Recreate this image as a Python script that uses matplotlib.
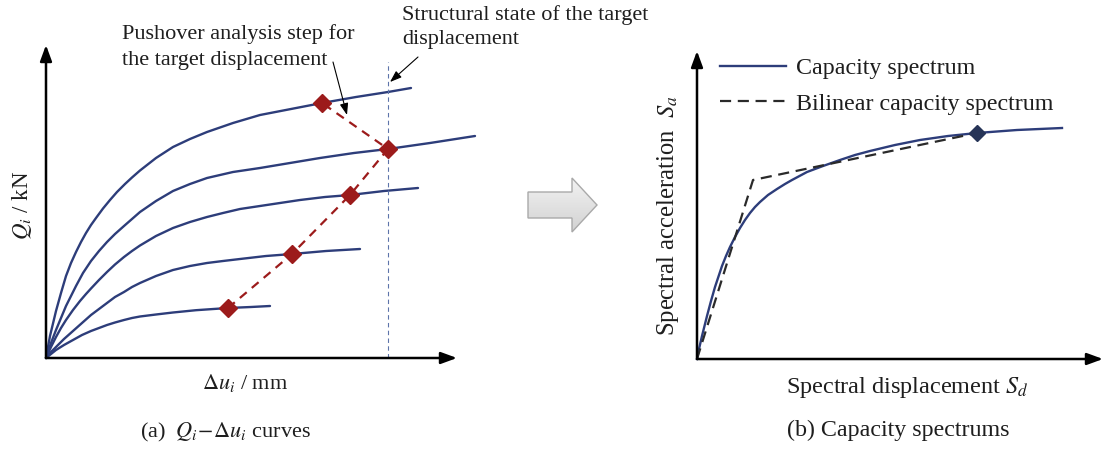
import numpy as np
import matplotlib.pyplot as plt
from matplotlib.patches import Polygon
from matplotlib.colors import LinearSegmentedColormap

plt.rcParams['font.family'] = 'Liberation Serif'
plt.rcParams['mathtext.fontset'] = 'stix'

W, H = 1105, 449

# pushover curves of the substructures (storey shear vs. interstorey drift)
du_1 = [0, 4, 10, 15, 20, 25, 30, 35, 40, 45, 50, 57, 64, 71, 79, 86, 94, 110,
        127, 144, 161, 187, 214, 245, 276, 310, 342, 365]
Q_1 = [0, 22, 47, 65, 82, 95, 106, 116, 125, 133, 140, 149.5, 158, 166, 174, 180.5,
       187.5, 200, 211, 219, 226, 235, 243, 249, 255, 261, 266, 270]
du_2 = [0, 5, 10, 15, 20, 25, 30, 37, 45, 53, 61, 69, 78, 86, 94, 110, 127, 144,
        161, 187, 214, 244, 274, 308, 342, 384, 429]
Q_2 = [0, 15, 28, 40, 52, 62, 72, 85, 97, 107, 116, 124, 132, 139, 146, 157, 167,
       174, 180, 186, 190, 195, 200, 205, 209, 215, 222]
du_3 = [0, 5, 10, 15, 20, 27, 34, 40, 45, 53, 61, 69, 78, 86, 94, 110, 127, 144,
        161, 177, 194, 214, 234, 254, 279, 304, 338, 372]
Q_3 = [0, 11, 21, 30, 38, 48, 57, 64, 69.5, 78, 86, 93.5, 101, 107, 112.5, 122, 130,
       136, 141, 145, 149, 152, 155, 158, 161, 163, 167, 170]
du_4 = [0, 5, 10, 18, 27, 36, 45, 53, 61, 69, 78, 86, 94, 110, 127, 144, 161, 177,
        194, 220, 246, 280, 314]
Q_4 = [0, 6, 11, 19, 27, 35, 43, 49, 55, 61, 66, 71, 75, 82, 88, 92, 95, 97, 99,
       102, 104, 107, 109]
du_5 = [0, 5, 10, 18, 27, 36, 45, 53, 61, 69, 78, 86, 94, 110, 127, 150, 182, 205, 224]
Q_5 = [0, 4, 8, 13, 18, 23, 27, 30, 33, 35.5, 38, 40, 41.5, 43.5, 45.5, 47.8, 50, 51, 52]

# analysis step of each curve at the target displacement
step_du = [182, 246, 304, 342, 276]
step_Q = [50, 104, 163, 209, 255]
target_du = 342

# capacity spectrum and its bilinear idealisation
Sd = [0, 2, 5, 10, 14, 18, 21, 25, 29, 33, 38, 43, 48, 53, 58, 63, 71, 80, 88, 95,
      110, 126, 143, 158, 173, 198, 223, 251, 280, 320, 365]
Sa = [0, 10, 23, 43, 58, 72, 81, 93, 103, 112, 122, 131, 139, 146, 152, 157, 164,
      170, 175, 179, 187, 193, 199, 204, 208, 214, 219, 223, 226, 229, 231]
Sd_bl = [0, 56, 280]
Sa_bl = [0, 179, 226]
Sd_perf, Sa_perf = 280, 226

navy = '#2d3d7a'
red = '#9c1b1b'
txt = '#1e1e1e'
fs_a = 16
fs_b = 17.3

fig = plt.figure(figsize=(W / 100, H / 100), dpi=100)

# ---- (a) pushover curves ----
ax1 = fig.add_axes([46 / W, (H - 358) / H, 454 / W, 358 / H])
ax1.set_xlim(0, 454)
ax1.set_ylim(0, 358)
ax1.axis('off')

for du, Q in [(du_1, Q_1), (du_2, Q_2), (du_3, Q_3), (du_4, Q_4), (du_5, Q_5)]:
    ax1.plot(du, Q, color=navy, lw=1.7, solid_capstyle='round',
             solid_joinstyle='round', clip_on=False)

ax1.plot([target_du, target_du], [0, 296], color='#5d74aa', lw=0.8,
         dashes=(4, 3), clip_on=False)
ax1.plot(step_du, step_Q, color=red, lw=1.6, dashes=(4, 3), zorder=3, clip_on=False)
ax1.plot(step_du, step_Q, ls='none', marker='D', ms=9, color=red, zorder=4, clip_on=False)

arr = dict(arrowstyle='-|>,head_length=0.6,head_width=0.22', color='k', lw=1.8,
           mutation_scale=16, shrinkA=0, shrinkB=0)
ax1.annotate('', xy=(0, 313), xytext=(0, 0), arrowprops=arr)
ax1.annotate('', xy=(411, 0), xytext=(0, 0), arrowprops=arr)

thin = dict(arrowstyle='-|>,head_length=0.5,head_width=0.18', color='k', lw=0.8,
            mutation_scale=14, shrinkA=0, shrinkB=0)
ax1.annotate('', xy=(301, 243), xytext=(287, 296), arrowprops=thin)
ax1.annotate('', xy=(344, 276), xytext=(372, 301), arrowprops=thin)

ax1.text(76, 311, 'Pushover analysis step for\nthe target displacement',
         fontsize=fs_a, color=txt, ha='left', va='center', linespacing=1.5)
ax1.text(356, 331, 'Structural state of the target\ndisplacement',
         fontsize=fs_a, color=txt, ha='left', va='center', linespacing=1.42)

ax1.text(-24, 153, r'$Q_i$ / kN', fontsize=16.5, color=txt, rotation=90,
         ha='center', va='center')
ax1.text(199, -25, r'$\Delta u_i$ / mm', fontsize=fs_a, color=txt,
         ha='center', va='center')
ax1.text(179, -74, r'(a)  $Q_i\!-\!\Delta u_i$ curves', fontsize=fs_a, color=txt,
         ha='center', va='center')

# ---- (b) capacity spectrum ----
ax2 = fig.add_axes([697 / W, (H - 359) / H, 408 / W, 359 / H])
ax2.set_xlim(0, 408)
ax2.set_ylim(0, 359)
ax2.axis('off')

cap, = ax2.plot(Sd, Sa, color=navy, lw=1.7, solid_joinstyle='round', clip_on=False)
bil, = ax2.plot(Sd_bl, Sa_bl, color='#2a2a2a', lw=1.6, dashes=(5, 3), clip_on=False)
ax2.plot([Sd_perf], [Sa_perf], ls='none', marker='D', ms=8, color='#263457', zorder=4)

ax2.annotate('', xy=(0, 308), xytext=(0, 0), arrowprops=arr)
ax2.annotate('', xy=(406, 0), xytext=(0, 0), arrowprops=arr)

ax2.legend([cap, bil], ['Capacity spectrum', 'Bilinear capacity spectrum'],
           loc='upper left', bbox_to_anchor=(0.056, 0.84), frameon=False,
           fontsize=fs_b, handlelength=2.76, handletextpad=0.42, labelspacing=0.56,
           borderpad=0, borderaxespad=0, labelcolor=txt)

ax2.text(-29, 143, r'Spectral acceleration  $S_a$', fontsize=fs_b + 0.4, color=txt,
         rotation=90, ha='center', va='center')
ax2.text(210, -28, r'Spectral displacement $S_d$', fontsize=fs_b + 0.2, color=txt,
         ha='center', va='center')
ax2.text(201, -71, '(b) Capacity spectrums', fontsize=fs_b, color=txt,
         ha='center', va='center')

# ---- grey block arrow between the panels ----
axm = fig.add_axes([0, 0, 1, 1], zorder=-1)
shape = Polygon([(528, 192), (572, 192), (572, 178), (597, 205), (572, 232),
                 (572, 218), (528, 218)], closed=True, fc='none',
                ec='#a9a9a9', lw=1.0)
axm.add_patch(shape)
grad = np.linspace(0, 1, 64).reshape(-1, 1)
img = axm.imshow(grad, cmap=LinearSegmentedColormap.from_list('g', ['#f2f2f2', '#d2d2d2']),
                 extent=(528, 597, 232, 178), aspect='auto')
img.set_clip_path(shape)
axm.set_xlim(0, W)
axm.set_ylim(H, 0)
axm.axis('off')

fig.savefig('out.png', dpi=100)
